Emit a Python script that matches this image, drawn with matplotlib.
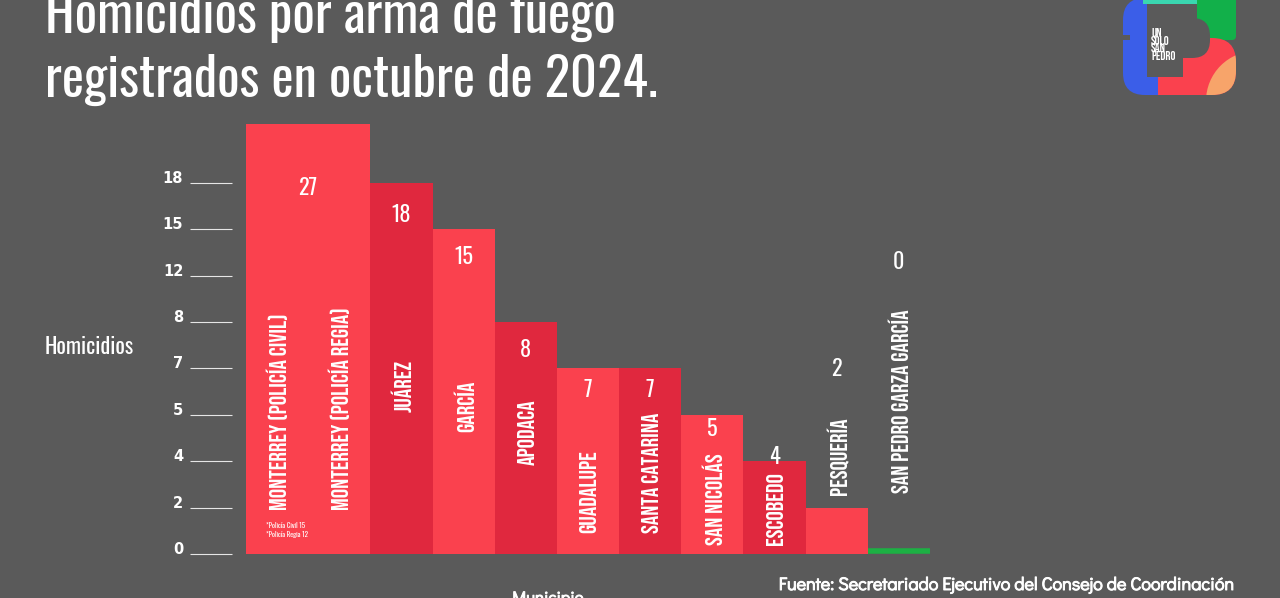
import matplotlib
matplotlib.use('Agg')
import matplotlib.pyplot as plt
from matplotlib import font_manager, transforms, patheffects
from matplotlib.patches import FancyBboxPatch, Rectangle, Circle
import numpy as np

# datos
municipios = ['MONTERREY', 'JUÁREZ', 'GARCÍA', 'APODACA', 'GUADALUPE', 'SANTA CATARINA',
              'SAN NICOLÁS', 'ESCOBEDO', 'PESQUERÍA', 'SAN PEDRO GARZA GARCÍA']
homicidios = [27, 18, 15, 8, 7, 7, 5, 4, 2, 0]
monterrey_partes = ['POLICÍA CIVIL', 'POLICÍA REGIA']
monterrey_valores = [15, 12]
ticks = [0, 2, 4, 5, 7, 8, 12, 15, 18]

_names = {f.name for f in font_manager.fontManager.ttflist}
def pick(*cands):
    return next((c for c in cands if c in _names), 'DejaVu Sans')

TITLE_F = pick('Oswald', 'Antonio', 'Roboto Condensed')
LABEL_F = pick('Bebas Neue', 'Oswald', 'Roboto Condensed')
SRC_F = pick('Didact Gothic', 'Questrial', 'Lato')

BG = '#5a5a5a'
LIGHT = '#fa414e'
DARK = '#e0283e'
GREEN = '#1db044'

fig = plt.figure(figsize=(12.8, 5.98), dpi=100, facecolor=BG)
ax = fig.add_axes([246 / 1280, 1 - 554 / 598, (930 - 246) / 1280, (554 - 124) / 598])
ax.set_facecolor(BG)

# escala irregular del eje (cada marca ocupa el mismo espacio)
knot_v = ticks + [27]
knot_p = list(range(len(ticks))) + [9.27]
ax.set_yscale('function', functions=(lambda v: np.interp(v, knot_v, knot_p),
                                     lambda p: np.interp(p, knot_p, knot_v)))
widths = [len(monterrey_partes)] + [1] * (len(municipios) - 1)
lefts = np.concatenate([[0], np.cumsum(widths)[:-1]])
colors = [LIGHT if i % 2 == 0 else DARK for i in range(len(municipios))]
ax.bar(lefts, homicidios, width=widths, align='edge', color=colors, lw=0)
ax.hlines(0.15, lefts[-1], lefts[-1] + widths[-1], color=GREEN, lw=4, clip_on=False)
ax.set_xlim(0, sum(widths))
ax.set_ylim(0, 27)
ax.axis('off')

# marcas del eje y
for t in ticks:
    ax.text(-1.01, t, str(t), ha='right', va='baseline', color='white',
            fontsize=10.5, fontweight='bold', family='DejaVu Sans')
ax.hlines(ticks, -0.9, -0.225, color='#e6e6e6', lw=0.8, clip_on=False)

bt = transforms.blended_transform_factory(ax.transData, fig.transFigure)
fy = lambda y: 1 - y / 598

# etiquetas de categoría y valores
name_y = [510, 412, 432, 465, 533, 533, 545, 545, 495, 493]
value_y = [188, 215, 257, 350, 390, 390, 429, 457, 369, 262]
for i, (m, v) in enumerate(zip(municipios, homicidios)):
    cx = lefts[i] + widths[i] / 2
    ax.text(cx, fy(value_y[i]), str(v), transform=bt, ha='center', va='center',
            color='white', fontsize=16, family=TITLE_F)
    if i == 0:
        for j, p in enumerate(monterrey_partes):
            ax.text(lefts[i] + j + 0.5, fy(name_y[i]), f'{m} ({p})', transform=bt,
                    rotation=90, ha='center', va='bottom', color='white',
                    fontsize=17, family=LABEL_F)
    else:
        ax.text(cx, fy(name_y[i]), m, transform=bt, rotation=90, ha='center',
                va='bottom', color='white', fontsize=17, family=LABEL_F)

nota = '\n'.join(f"*{p.title()} {v}" for p, v in zip(monterrey_partes, monterrey_valores))
ax.text(0.32, fy(522), nota, transform=bt, ha='left', va='top', color='white',
        fontsize=5, family=TITLE_F, linespacing=1.3)

# títulos y textos
for y, line in [(33, 'Homicidios por arma de fuego'), (97, 'registrados en octubre de 2024.')]:
    fig.text(45 / 1280, fy(y), line, ha='left', va='baseline', color='white',
             fontsize=38, family=TITLE_F)
fig.text(45 / 1280, fy(347), 'Homicidios', ha='left', va='center', color='white',
         fontsize=16, family=TITLE_F)
thick = [patheffects.withStroke(linewidth=0.7, foreground='white')]
fig.text(1235 / 1280, fy(585), 'Fuente: Secretariado Ejecutivo del Consejo de Coordinación',
         ha='right', va='center', color='white', fontsize=13, family=SRC_F, path_effects=thick)
fig.text(548 / 1280, fy(591), 'Municipio', ha='center', va='top', color='white',
         fontsize=12, family=SRC_F, path_effects=thick)

# logo "Un solo San Pedro"
lg = fig.add_axes([1110 / 1280, 1 - 110 / 598, 140 / 1280, 110 / 598])
lg.set_xlim(1110, 1250)
lg.set_ylim(110, 0)
lg.axis('off')
lg.add_patch(FancyBboxPatch((1123, -2), 70, 97, boxstyle='round,pad=0,rounding_size=22',
                            fc='#3b5ee8', ec='none'))
lg.add_patch(FancyBboxPatch((1150, -40), 86, 80, boxstyle='round,pad=0,rounding_size=4',
                            fc='#12b04a', ec='none'))
red = FancyBboxPatch((1158, 38), 78, 57, boxstyle='round,pad=0,rounding_size=24',
                     fc=LIGHT, ec='none')
lg.add_patch(red)
lg.add_patch(Rectangle((1158, 38), 30, 57, fc=LIGHT, ec='none'))
orange = Circle((1256, 101), 50, fc='#f7a46a', ec='none')
lg.add_patch(orange)
orange.set_clip_path(red)
lg.add_patch(Rectangle((1147, -5), 50, 43, fc=BG, ec='none'))
lg.add_patch(FancyBboxPatch((1147, 18), 63, 40, boxstyle='round,pad=0,rounding_size=18',
                            fc=BG, ec='none'))
lg.add_patch(Rectangle((1147, -5), 36, 82, fc=BG, ec='none'))
lg.add_patch(Rectangle((1143, 0), 54, 4, fc='#3ad6b0', ec='none'))
lg.add_patch(Rectangle((1110, 35), 20, 5, fc=BG, ec='none'))
lg.text(1151, 28, 'UN\nSOLO\nSAN\nPEDRO', ha='left', va='top', color='white',
        fontsize=9, family=LABEL_F, linespacing=0.85)

fig.savefig('out.png', dpi=100, facecolor=BG)
